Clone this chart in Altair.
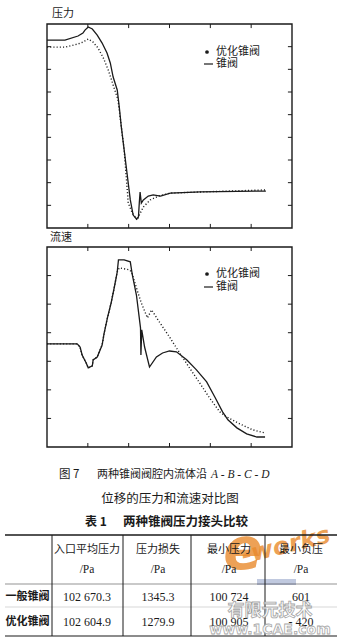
import altair as alt
import pandas as pd

CJK = "Noto Sans CJK SC"
SERIF = "Liberation Serif"
INK = "#1a1a1a"

# ---------------- data ----------------
# 压力 along A-B-C-D (x: displacement, y: pressure, relative units)
p_x_cone = [0, 0.44, 0.76, 0.88, 0.93, 1.01, 1.11, 1.23, 1.35, 1.47, 1.55, 1.62, 1.72, 1.77, 1.82,
            1.92, 2.04, 2.11, 2.19, 2.24, 2.26, 2.28, 2.31, 2.36, 2.48, 2.60, 2.78, 3.02, 3.76, 5.36]
p_y_cone = [8.29, 8.29, 8.47, 8.60, 8.73, 8.87, 8.78, 8.51, 8.16, 7.72, 7.28, 6.66, 6.09, 5.34, 4.46,
            3.00, 1.24, 0.57, 0.40, 0.49, 1.10, 1.59, 1.10, 1.24, 1.41, 1.46, 1.41, 1.54, 1.59, 1.63]
p_x_opt = [0, 0.44, 0.76, 0.88, 1.01, 1.13, 1.25, 1.38, 1.50, 1.62, 1.74, 1.79, 1.89, 1.99, 2.09,
           2.21, 2.26, 2.36, 2.53, 2.73, 3.02, 3.76, 5.36]
p_y_opt = [7.98, 7.98, 8.12, 8.20, 8.34, 8.20, 7.94, 7.50, 6.97, 6.31, 5.65, 4.90, 3.44, 1.10, 0.66,
           0.35, 0.57, 0.93, 1.24, 1.41, 1.54, 1.59, 1.68]

# 流速 along A-B-C-D
v_x_cone = [0, 0.74, 0.81, 0.86, 0.96, 1.01, 1.11, 1.13, 1.23, 1.35, 1.40, 1.48, 1.57, 1.65, 1.72,
            1.75, 1.89, 2.04, 2.09, 2.19, 2.29, 2.30, 2.32, 2.39, 2.51, 2.68, 2.83, 3.00, 3.17, 3.42,
            3.66, 3.91, 4.11, 4.30, 4.43, 4.65, 4.89, 5.14, 5.34]
v_y_cone = [3.61, 3.61, 3.50, 3.22, 2.94, 2.77, 2.84, 3.05, 3.15, 3.57, 3.99, 4.52, 5.04, 5.60, 6.13,
            6.55, 6.55, 6.48, 6.02, 5.32, 4.17, 3.22, 4.10, 3.50, 2.80, 3.15, 3.29, 3.36, 3.33, 3.05,
            2.70, 2.28, 1.75, 1.23, 0.95, 0.67, 0.46, 0.35, 0.35]
v_x_opt = [0, 0.74, 0.81, 0.86, 0.96, 1.01, 1.11, 1.13, 1.23, 1.35, 1.40, 1.48, 1.57, 1.65, 1.72,
           1.77, 2.02, 2.07, 2.19, 2.31, 2.46, 2.56, 2.75, 3.00, 3.25, 3.49, 3.74, 3.98, 4.23, 4.40,
           4.72, 5.04, 5.34]
v_y_opt = [3.61, 3.61, 3.50, 3.22, 2.94, 2.77, 2.84, 3.05, 3.15, 3.57, 3.99, 4.52, 5.04, 5.60, 6.13,
           6.27, 6.20, 6.13, 5.57, 5.04, 4.52, 4.80, 4.38, 3.85, 3.29, 2.77, 2.24, 1.72, 1.23, 1.05,
           0.81, 0.60, 0.49]

series_names = ["优化锥阀", "锥阀"]

# 表 1
col_heads = ["入口平均压力", "压力损失", "最小压力", "最小负压"]
col_units = ["/Pa", "/Pa", "/Pa", "/Pa"]
row_names = ["一般锥阀", "优化锥阀"]
row_general = ["102 670.3", "1345.3", "100 724", "601"]
row_optimized = ["102 604.9", "1279.9", "100 905", "- 420"]

# ---------------- layout (px, whole page) ----------------
W, H = 338, 640
XMAX = 6
X_RANGE = [47, 292]


def frame_and_ticks(ymax, y_range, tick_len_y):
    """Box frame with short inward ticks on all four sides."""
    tick_len_x = 0.1
    rows = []
    for xv in range(1, XMAX):
        rows.append((xv, xv, 0, tick_len_y))
        rows.append((xv, xv, ymax - tick_len_y, ymax))
    for yv in range(1, ymax):
        rows.append((0, tick_len_x, yv, yv))
        rows.append((XMAX - tick_len_x, XMAX, yv, yv))
    tk = pd.DataFrame(rows, columns=["x", "x2", "y", "y2"])
    xs = alt.Scale(domain=[0, XMAX], range=X_RANGE)
    ys = alt.Scale(domain=[0, ymax], range=y_range)
    ticks = alt.Chart(tk).mark_rule(color=INK, strokeWidth=1).encode(
        x=alt.X("x:Q", scale=xs, axis=None), x2="x2:Q",
        y=alt.Y("y:Q", scale=ys, axis=None), y2="y2:Q")
    box = alt.Chart(pd.DataFrame({"x": [0], "x2": [XMAX], "y": [0], "y2": [ymax]})).mark_rect(
        fill=None, stroke=INK, strokeWidth=1.4).encode(
        x=alt.X("x:Q", scale=xs, axis=None), x2="x2:Q",
        y=alt.Y("y:Q", scale=ys, axis=None), y2="y2:Q")
    return box + ticks


def curves(xc, yc, xo, yo, ymax, y_range):
    xs = alt.Scale(domain=[0, XMAX], range=X_RANGE)
    ys = alt.Scale(domain=[0, ymax], range=y_range)
    cone = pd.DataFrame({"x": xc, "y": yc, "i": range(len(xc))})
    opt = pd.DataFrame({"x": xo, "y": yo, "i": range(len(xo))})
    dotted = alt.Chart(opt).mark_line(color=INK, strokeWidth=1.4, strokeDash=[1.1, 2.1]).encode(
        x=alt.X("x:Q", scale=xs, axis=None), y=alt.Y("y:Q", scale=ys, axis=None), order="i:Q")
    solid = alt.Chart(cone).mark_line(color=INK, strokeWidth=1.3).encode(
        x=alt.X("x:Q", scale=xs, axis=None), y=alt.Y("y:Q", scale=ys, axis=None), order="i:Q")
    return dotted + solid


def label(text, x, y, size=11, align="left", font=CJK, weight="normal", style="normal",
          color=INK, angle=0, opacity=1.0, stroke=None, stroke_width=0):
    kw = dict(align=align, baseline="middle", font=font, fontSize=size, fontWeight=weight,
              fontStyle=style, color=color, opacity=opacity)
    if angle:
        kw["angle"] = angle
    if stroke:
        kw["stroke"] = stroke
        kw["strokeWidth"] = stroke_width
    return alt.Chart(pd.DataFrame({"t": [text]})).mark_text(**kw).encode(
        x=alt.value(x), y=alt.value(y), text="t:N")


def legend(y0, dy):
    dot = alt.Chart(pd.DataFrame({"t": [0]})).mark_point(
        shape="circle", filled=True, size=14, color=INK, opacity=1).encode(
        x=alt.value(207), y=alt.value(y0))
    dash = alt.Chart(pd.DataFrame({"t": [0]})).mark_rule(color=INK, strokeWidth=1.2).encode(
        x=alt.value(204), x2=alt.value(213), y=alt.value(y0 + dy))
    return (dot + dash + label(series_names[0], 216, y0, 11)
            + label(series_names[1], 216, y0 + dy, 11))


P_RANGE = [228, 24]
V_RANGE = [447, 247]

pressure = alt.layer(
    frame_and_ticks(9, P_RANGE, 0.18),
    curves(p_x_cone, p_y_cone, p_x_opt, p_y_opt, 9, P_RANGE),
    legend(52, 12),
    label("压力", 52, 14, 11),
)

velocity = alt.layer(
    frame_and_ticks(7, V_RANGE, 0.14),
    curves(v_x_cone, v_y_cone, v_x_opt, v_y_opt, 7, V_RANGE),
    legend(274, 13),
    label("流速", 50, 238, 11),
)

# ---------------- caption and table ----------------
col_x = [87, 158, 229, 301]
row_y = [597, 622]

lines = pd.DataFrame({
    "x": [5, 5, 5, 5, 52, 123, 191, 265],
    "x2": [337, 337, 337, 337, 52, 123, 191, 265],
    "y": [535, 584, 607, 636, 535, 535, 535, 535],
    "y2": [535, 584, 607, 636, 636, 636, 636, 636],
    "w": [1.6, 0.8, 0.5, 1.2, 1, 1, 1, 1],
    "o": [1, 0.6, 0.35, 1, 1, 1, 1, 1],
})
table_lines = alt.Chart(lines).mark_rule(color=INK).encode(
    x=alt.X("x:Q", scale=None, axis=None), x2="x2:Q",
    y=alt.Y("y:Q", scale=None, axis=None), y2="y2:Q",
    strokeWidth=alt.StrokeWidth("w:Q", scale=None),
    opacity=alt.Opacity("o:Q", scale=None))

heads = pd.DataFrame({"t": col_heads, "x": col_x, "y": [550] * 4})
units = pd.DataFrame({"t": col_units, "x": col_x, "y": [570] * 4})
vals = pd.DataFrame({
    "t": row_general + row_optimized,
    "x": col_x + col_x,
    "y": [row_y[0]] * 4 + [row_y[1]] * 4,
})
rows_df = pd.DataFrame({"t": row_names, "x": [27.5, 27.5], "y": row_y})


def cells(df, font, size, weight="normal"):
    return alt.Chart(df).mark_text(align="center", baseline="middle", font=font, fontSize=size,
                                   fontWeight=weight, color=INK).encode(
        x=alt.X("x:Q", scale=None, axis=None), y=alt.Y("y:Q", scale=None, axis=None), text="t:N")


# e-works / 1CAE watermark over the table (drawn beneath the table text)
wm_e = label("e", 243, 552, 58, align="center", font="DejaVu Sans",
             weight="bold", style="italic", color="#e98a2c", opacity=0.8)
wm_works = label("-works", 286, 546, 24, align="center", font="DejaVu Sans",
                 weight="bold", style="italic", color="#e98a2c", angle=346, opacity=0.8)
wm_bar = alt.Chart(pd.DataFrame({"t": [0]})).mark_rect(color="#8d9cc4", opacity=0.55).encode(
    x=alt.value(257), x2=alt.value(296), y=alt.value(579), y2=alt.value(585))
wm_cn = label("有限元技术", 270, 611, 17, align="center", weight="bold",
              color="#ffffff", stroke="#9a9a9a", stroke_width=0.8, opacity=0.9)
wm_url = label("www.1CAE.com", 270, 630, 14, align="center", font="DejaVu Sans",
               weight="bold", color="#ffffff", stroke="#a0a0a0", stroke_width=0.8, opacity=0.9)

caption = alt.layer(
    wm_e, wm_works, wm_bar,
    label("图 7", 59, 475, 11.5),
    label("两种锥阀阀腔内流体沿", 97, 475, 11),
    label("A - B - C - D", 211, 475, 11.5, font=SERIF, style="italic"),
    label("位移的压力和流速对比图", 170, 499, 12.5, align="center"),
    label("表 1", 85, 522, 12, weight="bold"),
    label("两种锥阀压力接头比较", 123, 522, 12.5, weight="bold"),
    table_lines,
    cells(heads, CJK, 11),
    cells(units, SERIF, 11.5),
    cells(vals, SERIF, 12),
    cells(rows_df, CJK, 11, "bold"),
    wm_cn, wm_url,
)

chart = alt.layer(pressure, velocity, caption).resolve_scale(
    x="independent", y="independent"
).properties(
    width=W, height=H,
    autosize=alt.AutoSizeParams(type="none"),
    padding=0,
    background="#ffffff",
).configure_view(stroke=None)

chart.save("out.html", embed_options={"renderer": "svg", "actions": False})
